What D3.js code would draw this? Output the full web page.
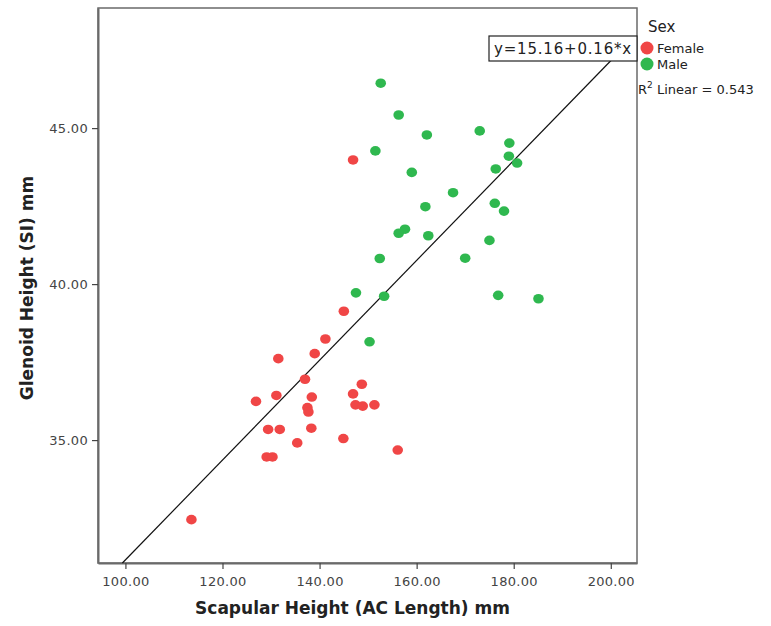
<!DOCTYPE html>
<html>
<head>
<meta charset="utf-8">
<script src="https://cdn.jsdelivr.net/npm/d3@7"></script>
<style>
  body { margin: 0; background: #fff; }
  svg { font-family: "DejaVu Sans", sans-serif; }
</style>
</head>
<body>
<div id="chart"></div>
<script>
// scapular height (x) and glenoid height (y)
var femaleX = [145.0, 141.2, 139.0, 131.5, 137.0, 148.7, 146.9, 131.1, 138.4, 126.9,
               137.5, 137.7, 147.4, 148.9, 151.3, 129.4, 131.8, 138.3, 135.4, 144.9,
               129.1, 130.3, 113.6, 156.1, 146.9];
var femaleY = [39.13, 38.24, 37.77, 37.61, 36.95, 36.79, 36.48, 36.43, 36.38, 36.24,
               36.04, 35.90, 36.13, 36.09, 36.13, 35.34, 35.34, 35.38, 34.91, 35.05,
               34.46, 34.46, 32.45, 34.68, 43.98];
var maleX = [152.6, 156.3, 162.1, 173.0, 179.1, 151.5, 179.0, 180.7, 176.3, 159.0,
             167.5, 176.1, 178.0, 161.8, 157.6, 156.3, 162.4, 175.0, 152.4, 170.0,
             147.5, 153.3, 176.8, 185.1, 150.3];
var maleY = [46.44, 45.42, 44.78, 44.91, 44.52, 44.27, 44.10, 43.88, 43.69, 43.58,
             42.93, 42.59, 42.34, 42.48, 41.76, 41.63, 41.55, 41.40, 40.82, 40.83,
             39.72, 39.61, 39.64, 39.53, 38.15];

var xTicks = [100, 120, 140, 160, 180, 200];
var yTicks = [35, 40, 45];
var groups = ["Female", "Male"];
var groupColors = ["#f04646", "#2fb84f"];
var intercept = 15.16, slope = 0.16, r2 = 0.543;

var width = 771, height = 626;
var plotLeft = 98, plotRight = 637, plotTop = 8, plotBottom = 563;

var svg = d3.select("#chart").append("svg")
    .attr("width", width)
    .attr("height", height);

var x = d3.scaleLinear().domain([94.35, 205.4]).range([plotLeft, plotRight]);
var y = d3.scaleLinear().domain([31.06, 48.85]).range([plotBottom, plotTop]);

// frame
svg.append("rect")
    .attr("x", plotLeft).attr("y", plotTop)
    .attr("width", plotRight - plotLeft).attr("height", plotBottom - plotTop)
    .attr("fill", "none")
    .attr("stroke", "#6a6a6a")
    .attr("stroke-width", 1.5);

var xAxis = svg.append("g")
    .attr("transform", "translate(0," + plotBottom + ")")
    .call(d3.axisBottom(x).tickValues(xTicks).tickSize(6).tickSizeOuter(0)
        .tickFormat(d3.format(".2f")));
var yAxis = svg.append("g")
    .attr("transform", "translate(" + plotLeft + ",0)")
    .call(d3.axisLeft(y).tickValues(yTicks).tickSize(6).tickSizeOuter(0)
        .tickFormat(d3.format(".2f")));

[xAxis, yAxis].forEach(function(g){
    g.select(".domain").attr("stroke", "#6a6a6a").attr("stroke-width", 2);
    g.selectAll(".tick line").attr("stroke", "#444").attr("stroke-width", 1.2);
    g.selectAll(".tick text")
        .attr("fill", "#444")
        .style("font-size", "13px")
        .style("letter-spacing", "0.3px")
        .style("font-family", "DejaVu Sans, sans-serif");
});
xAxis.selectAll(".tick text").attr("dy", "1.05em");
yAxis.selectAll(".tick text").attr("dx", "-1px");

svg.append("text")
    .attr("x", (plotLeft + plotRight) / 2 - 15)
    .attr("y", 614)
    .attr("text-anchor", "middle")
    .style("font-size", "17px")
    .style("font-weight", "bold")
    .attr("fill", "#222")
    .text("Scapular Height (AC Length) mm");

svg.append("text")
    .attr("transform", "translate(33," + 288 + ") rotate(-90)")
    .attr("text-anchor", "middle")
    .style("font-size", "17px")
    .style("font-weight", "bold")
    .attr("fill", "#222")
    .text("Glenoid Height (SI) mm");

// fit line, from the bottom of the plot up to where it runs under the label box
var boxX = 489, boxY = 36, boxW = 148, boxH = 25;
var x0 = (y.domain()[0] - intercept) / slope;
var x1 = (y.invert(boxY + boxH / 2) - intercept) / slope;
svg.append("line")
    .attr("x1", x(x0)).attr("y1", y(intercept + slope * x0))
    .attr("x2", x(x1)).attr("y2", y(intercept + slope * x1))
    .attr("stroke", "#111")
    .attr("stroke-width", 1.2);

// points
var points = [];
femaleX.forEach(function(v, i){ points.push({x: v, y: femaleY[i], g: 0}); });
maleX.forEach(function(v, i){ points.push({x: v, y: maleY[i], g: 1}); });

svg.append("g").selectAll("ellipse")
    .data(points)
    .enter().append("ellipse")
    .attr("cx", function(d){ return x(d.x); })
    .attr("cy", function(d){ return y(d.y); })
    .attr("rx", 5.3)
    .attr("ry", 4.8)
    .attr("fill", function(d){ return groupColors[d.g]; });

// equation box
var box = svg.append("g").attr("transform", "translate(" + boxX + "," + boxY + ")");
box.append("rect")
    .attr("width", boxW).attr("height", boxH)
    .attr("fill", "#fff")
    .attr("stroke", "#222")
    .attr("stroke-width", 1.2);
box.append("text")
    .attr("x", boxW / 2).attr("y", 18)
    .attr("text-anchor", "middle")
    .style("font-size", "15px")
    .style("letter-spacing", "0.8px")
    .attr("fill", "#222")
    .text("y=" + intercept.toFixed(2) + "+" + slope.toFixed(2) + "*x");

// legend
var legend = svg.append("g");
legend.append("text")
    .attr("x", 648).attr("y", 32)
    .style("font-size", "15px")
    .attr("fill", "#222")
    .text("Sex");
groups.forEach(function(name, i){
    legend.append("circle")
        .attr("cx", 647).attr("cy", 48 + i * 16)
        .attr("r", 6.5)
        .attr("fill", groupColors[i]);
    legend.append("text")
        .attr("x", 657).attr("y", 53 + i * 16)
        .style("font-size", "13px")
        .attr("fill", "#222")
        .text(name);
});
var r2text = legend.append("text")
    .attr("x", 638).attr("y", 94)
    .style("font-size", "13px")
    .attr("fill", "#222");
r2text.append("tspan").text("R");
r2text.append("tspan").attr("dy", -6).style("font-size", "9px").text("2");
r2text.append("tspan").attr("dy", 6).text(" Linear = " + r2.toFixed(3));
</script>
</body>
</html>
